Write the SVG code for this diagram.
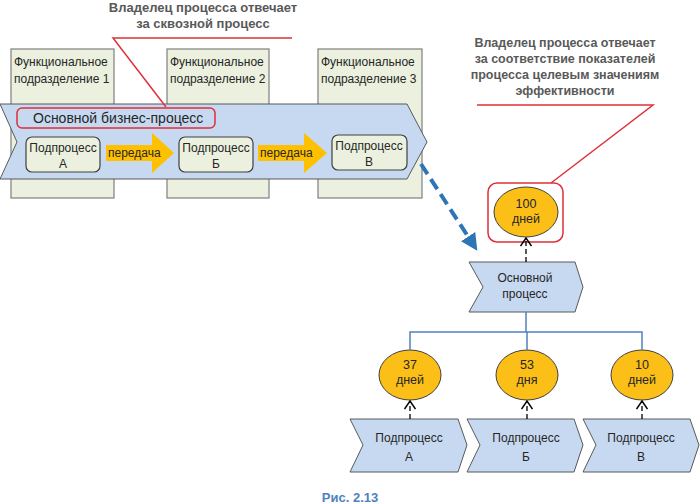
<svg xmlns="http://www.w3.org/2000/svg" width="700" height="504" viewBox="0 0 700 504">
<defs>
<style>
text{font-family:"Liberation Sans","Open Sans",sans-serif;fill:#262626;}
.hdr{font-weight:bold;font-size:13px;fill:#595959;text-anchor:middle;}
.fu{fill:#ebf1de;stroke:#7f7f7f;stroke-width:1.2;}
.t12{font-size:12px;}
.t13{font-size:12.5px;}
.mid{text-anchor:middle;}
.band{fill:#c6d9f1;stroke:#595959;stroke-width:1;}
.sub{fill:#ebf1de;stroke:#404040;stroke-width:1.2;}
.red{fill:none;stroke:#e0303a;stroke-width:1.5;}
.yel{fill:#ffc000;stroke:none;}
.ell{fill:#fcbf17;stroke:#404040;stroke-width:1;}
.chev{fill:#c6d9f1;stroke:#595959;stroke-width:1;}
.tree{fill:none;stroke:#4f81bd;stroke-width:1.5;}
.dash{fill:none;stroke:#000;stroke-width:1.3;stroke-dasharray:5,3;}
</style>
<marker id="open" viewBox="0 0 10 12" refX="9" refY="6" markerWidth="10" markerHeight="12" markerUnits="userSpaceOnUse" orient="auto">
<path d="M1,0.5 L9,6 L1,11.5" fill="none" stroke="#000" stroke-width="1.5"/>
</marker>
<marker id="blue" viewBox="0 0 20 20" refX="2" refY="10" markerWidth="17" markerHeight="17" markerUnits="userSpaceOnUse" orient="auto">
<path d="M0,0 L20,10 L0,20 Z" fill="#2e75b6"/>
</marker>
</defs>

<g id="headings">
<text class="hdr" x="203" y="12">Владелец процесса отвечает</text>
<text class="hdr" x="203" y="28">за сквозной процесс</text>
<text class="hdr" x="565" y="47" style="font-size:12.5px">Владелец процесса отвечает</text>
<text class="hdr" x="565" y="63" style="font-size:12.5px">за соответствие показателей</text>
<text class="hdr" x="565" y="79" style="font-size:12.5px">процесса целевым значениям</text>
<text class="hdr" x="565" y="95" style="font-size:12.5px">эффективности</text>
</g>

<g id="fu1">
<rect class="fu" x="11" y="49" width="103" height="149"/>
<text class="t12" x="14" y="66">Функциональное</text>
<text class="t12" x="14" y="83">подразделение 1</text>
</g>
<g id="fu2">
<rect class="fu" x="167" y="49" width="102" height="149"/>
<text class="t12" x="170" y="66">Функциональное</text>
<text class="t12" x="170" y="83">подразделение 2</text>
</g>
<g id="fu3">
<rect class="fu" x="318" y="49" width="104" height="149"/>
<text class="t12" x="321" y="66">Функциональное</text>
<text class="t12" x="321" y="83">подразделение 3</text>
</g>

<g id="mainband">
<path class="band" d="M0,104 L407,104 L427,142 L407,179 L0,179 L17,142 Z"/>
<rect x="17" y="108" width="198" height="20" rx="5" fill="#c6d9f1" stroke="#e0303a" stroke-width="1.5"/>
<text x="33" y="123" style="font-size:14px">Основной бизнес-процесс</text>
</g>

<g id="subA">
<rect class="sub" x="26" y="137" width="74" height="35" rx="6"/>
<text class="t12 mid" x="63" y="152">Подпроцесс</text>
<text class="t12 mid" x="63" y="168">А</text>
</g>
<g id="subB">
<rect class="sub" x="179" y="137" width="74" height="35" rx="6"/>
<text class="t12 mid" x="216" y="152">Подпроцесс</text>
<text class="t12 mid" x="216" y="168">Б</text>
</g>
<g id="subV">
<rect class="sub" x="332" y="135" width="75" height="35" rx="6"/>
<text class="t12 mid" x="369" y="150">Подпроцесс</text>
<text class="t12 mid" x="369" y="166">В</text>
</g>

<g id="pass1">
<path class="yel" d="M106,145 L152,145 L152,133 L174,153 L152,173 L152,161 L106,161 Z"/>
<text class="t12" x="108" y="157">передача</text>
</g>
<g id="pass2">
<path class="yel" d="M258,145 L304,145 L304,133 L327,153 L304,173 L304,161 L258,161 Z"/>
<text class="t12" x="260" y="157">передача</text>
</g>

<g id="goal100">
<rect x="488" y="183" width="75" height="59" rx="9" fill="none" stroke="#e0303a" stroke-width="1.5"/>
<ellipse class="ell" cx="526" cy="212" rx="32" ry="25"/>
<text class="t13 mid" x="526" y="208">100</text>
<text class="t13 mid" x="526" y="223">дней</text>
</g>

<g id="mainproc">
<path class="chev" d="M469,262 L575,262 L583,287 L575,312 L469,312 L483,287 Z"/>
<text class="t12 mid" x="525" y="282">Основной</text>
<text class="t12 mid" x="525" y="298">процесс</text>
</g>

<g id="e37">
<ellipse class="ell" cx="410" cy="375" rx="31" ry="25"/>
<text class="t13 mid" x="410" y="369">37</text>
<text class="t13 mid" x="410" y="384">дней</text>
</g>
<g id="e53">
<ellipse class="ell" cx="527" cy="375" rx="31" ry="25"/>
<text class="t13 mid" x="527" y="369">53</text>
<text class="t13 mid" x="527" y="384">дня</text>
</g>
<g id="e10">
<ellipse class="ell" cx="642" cy="375" rx="31" ry="25"/>
<text class="t13 mid" x="642" y="369">10</text>
<text class="t13 mid" x="642" y="384">дней</text>
</g>

<g id="procA">
<path class="chev" d="M350,419 L458,419 L467,445 L458,472 L350,472 L363,445 Z"/>
<text class="t12 mid" x="409" y="442">Подпроцесс</text>
<text class="t12 mid" x="409" y="461">А</text>
</g>
<g id="procB">
<path class="chev" d="M467,419 L574,419 L583,445 L574,472 L467,472 L480,445 Z"/>
<text class="t12 mid" x="526" y="442">Подпроцесс</text>
<text class="t12 mid" x="526" y="461">Б</text>
</g>
<g id="procV">
<path class="chev" d="M583,419 L690,419 L699,445 L690,472 L583,472 L596,445 Z"/>
<text class="t12 mid" x="641" y="442">Подпроцесс</text>
<text class="t12 mid" x="641" y="461">В</text>
</g>

<g id="connectors">
<polyline class="red" points="166,107 113,38 292,38"/>
<polyline class="red" points="477,105 653,105 551,183"/>
<line x1="421" y1="164" x2="469" y2="238" stroke="#2e75b6" stroke-width="4" stroke-dasharray="12,6" marker-end="url(#blue)"/>
<line class="dash" x1="526" y1="262" x2="526" y2="238" marker-end="url(#open)"/>
<polyline class="tree" points="526,312 526,332"/>
<polyline class="tree" points="410,350 410,332 642,332 642,350"/>
<line class="tree" x1="527" y1="332" x2="527" y2="350"/>
<line class="dash" x1="410" y1="419" x2="410" y2="401" marker-end="url(#open)"/>
<line class="dash" x1="527" y1="419" x2="527" y2="401" marker-end="url(#open)"/>
<line class="dash" x1="642" y1="419" x2="642" y2="401" marker-end="url(#open)"/>
</g>

<g id="caption">
<text x="350" y="502" text-anchor="middle" style="font-size:13px;font-weight:bold;fill:#4f81bd">Рис. 2.13</text>
</g>
</svg>
